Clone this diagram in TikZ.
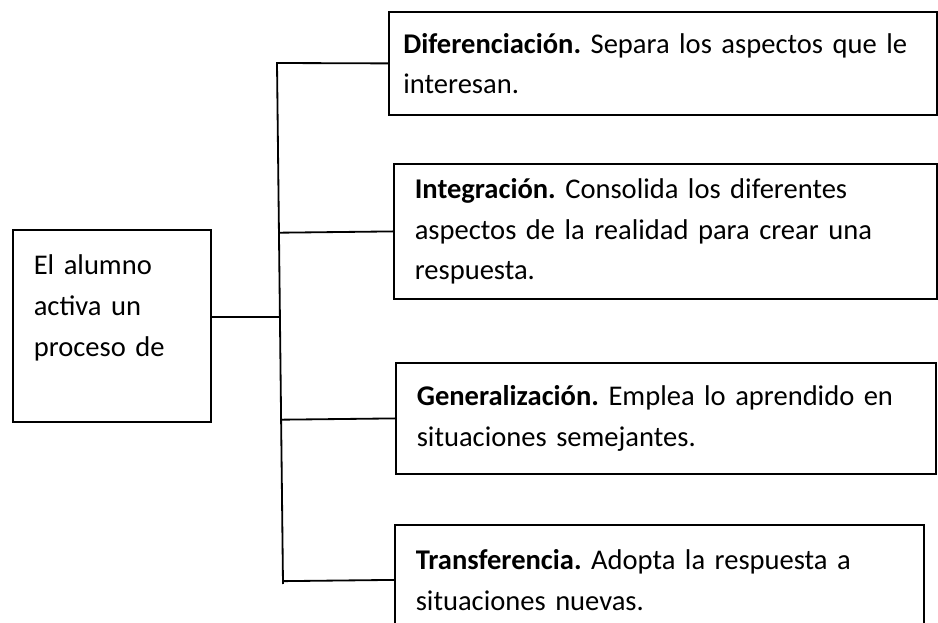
\documentclass[tikz,border=0pt]{standalone}
\usepackage{fontspec}
\setmainfont{Carlito}
\usepackage{tikz}
\usetikzlibrary{calc}

\begin{document}
\frenchspacing
\begin{tikzpicture}[x=0.55pt, y=-0.55pt,
		caja/.style={draw, line width=1pt, anchor=north west, align=left,
			inner xsep=11.5pt, inner ysep=0pt, font=\fontsize{15.7}{22.3}\selectfont},
		rama/.style={line width=1pt}]
		% Frame
		\useasboundingbox (0,0) rectangle (938,623);
		\clip (0,0) rectangle (938,623);
		
		% Boxes
		\node[caja, text width=85.9pt, minimum height=105.6pt] (alumno) at (12,229) {El alumno\\activa un\\proceso de\\~};
		\node[caja, inner xsep=8pt, text width=285.4pt, minimum height=56.65pt] (dif) at (388,11) {\textbf{Diferenciación.} Separa los aspectos que le\\interesan.};
		\node[caja, text width=275.65pt, minimum height=74.25pt] (int) at (393,163) {\textbf{Integración.} Consolida los diferentes\\aspectos de la realidad para crear una\\respuesta.};
		\node[caja, text width=274pt, minimum height=61.05pt] (gen) at (395,362) {\textbf{Generalización.} Emplea lo aprendido en\\situaciones semejantes.};
		\node[caja, text width=267.95pt, minimum height=60.5pt] (tra) at (394,524) {\textbf{Transferencia.} Adopta la respuesta a\\situaciones nuevas.};
		
		% Trunk
		\coordinate (tope) at (277,63);
		\coordinate (pie) at (283,584);
		\coordinate (nudo) at (280,317);
		\draw[rama] (dif.west) -- (tope) -- (pie);
		
		% Branches
		\draw[rama] (alumno.east |- nudo) -- (nudo);
		\draw[rama] (int.west) -- ($(tope)!(int.west)!(pie)$);
		\draw[rama] (gen.west) -- ($(tope)!(gen.west)!(pie)$);
		\draw[rama] (tra.west) -- ($(tope)!(tra.west)!(pie)$);
	\end{tikzpicture}
\end{document}
